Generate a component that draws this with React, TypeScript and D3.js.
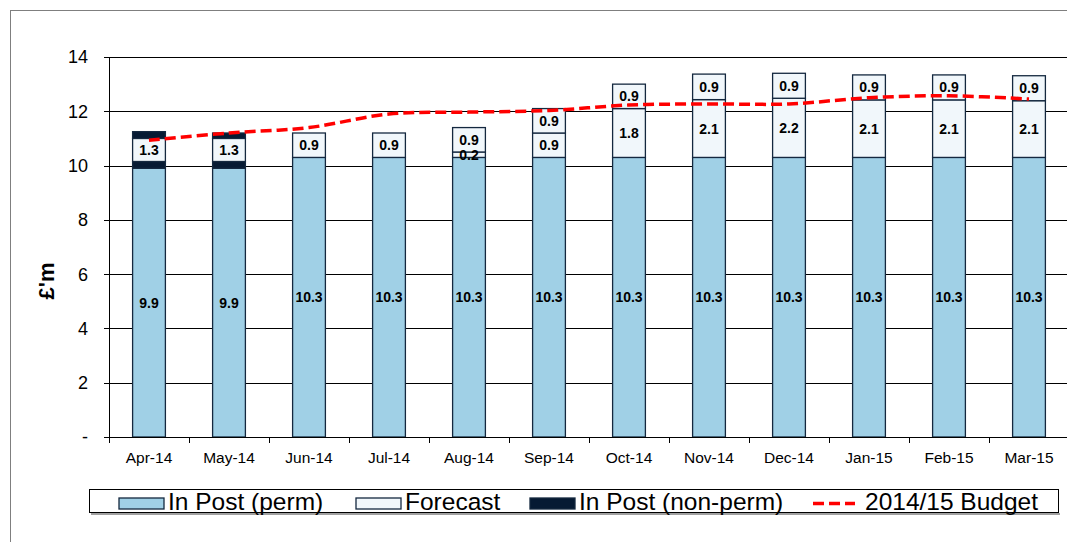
import React from "react";
import * as d3 from "d3";

const months = ["Apr-14","May-14","Jun-14","Jul-14","Aug-14","Sep-14","Oct-14","Nov-14","Dec-14","Jan-15","Feb-15","Mar-15"];
const inPostPerm = [9.9, 9.9, 10.3, 10.3, 10.3, 10.3, 10.3, 10.3, 10.3, 10.3, 10.3, 10.3];
const inPostNonPerm = [0.25, 0.25, 0, 0, 0, 0, 0, 0, 0, 0, 0, 0];
const forecastA = [0.85, 0.85, 0.9, 0.9, 0.2, 0.9, 1.8, 2.13, 2.18, 2.12, 2.12, 2.09];
const forecastB = [0, 0, 0, 0, 0.9, 0.9, 0.9, 0.94, 0.92, 0.92, 0.92, 0.92];
const nonPermTop = [0.25, 0.2, 0, 0, 0, 0, 0, 0, 0, 0, 0, 0];
const permLabels = ["9.9","9.9","10.3","10.3","10.3","10.3","10.3","10.3","10.3","10.3","10.3","10.3"];
const forecastALabels = ["1.3","1.3","0.9","0.9","0.2","0.9","1.8","2.1","2.2","2.1","2.1","2.1"];
const forecastBLabels = ["","","","","0.9","0.9","0.9","0.9","0.9","0.9","0.9","0.9"];
const budget = [10.93, 11.2, 11.4, 11.9, 11.97, 12.03, 12.23, 12.27, 12.27, 12.5, 12.57, 12.45];
const yTicks = [0, 2, 4, 6, 8, 10, 12, 14];
const legendItems = ["In Post (perm)", "Forecast", "In Post (non-perm)", "2014/15 Budget"];

const FONT = "'Liberation Sans', Arial, Helvetica, sans-serif";
const BLUE = "#A0D0E6";
const NAVY = "#061A33";
const WHITE = "#F1F7FB";
const EDGE = "#14283F";
const RED = "#FF0000";

export default function App() {
  const W = 1067, H = 542;
  const left = 109, right = 1069, top = 57, bottom = 437;
  const x = d3.scaleBand<string>().domain(months).range([left, right]).paddingInner(0.59).paddingOuter(0.295);
  const y = d3.scaleLinear().domain([0, 14]).range([bottom, top]);
  const bw = x.bandwidth();

  const segs: { key: string; i: number; y0: number; y1: number; fill: string; label: string }[] = [];
  months.forEach((m, i) => {
    let acc = 0;
    const add = (v: number, fill: string, label: string, key: string) => {
      if (v > 0) segs.push({ key: key + i, i, y0: acc, y1: acc + v, fill, label });
      acc += v;
    };
    add(inPostPerm[i], BLUE, permLabels[i], "p");
    add(inPostNonPerm[i], NAVY, "", "n");
    add(forecastA[i], WHITE, forecastALabels[i], "a");
    add(forecastB[i], WHITE, forecastBLabels[i], "b");
    add(nonPermTop[i], NAVY, "", "t");
  });

  const line = d3.line<number>()
    .x((_, i) => (x(months[i]) as number) + bw / 2)
    .y((d) => y(d))
    .curve(d3.curveCatmullRom.alpha(0.5));

  const legendY = 489;
  const swW = 45, swH = 11;
  const legendX = [119, 356, 530, 813];
  const textX = [168, 405, 579, 865];

  return (
    <svg width={W} height={H} style={{ position: "absolute", left: 0, top: 0, background: "#fff" }} fontFamily={FONT}>
      <rect x={10.5} y={10.5} width={1200} height={700} fill="none" stroke="#7f7f7f" strokeWidth={1} />
      {yTicks.filter((t) => t > 0).map((t) => (
        <line key={"g" + t} x1={left} x2={W} y1={Math.round(y(t)) + 0.5} y2={Math.round(y(t)) + 0.5} stroke="#000" strokeWidth={1} />
      ))}
      <line x1={left + 0.5} x2={left + 0.5} y1={Math.round(y(14))} y2={bottom + 0.5} stroke="#000" />
      {yTicks.map((t) => (
        <g key={"yt" + t}>
          <line x1={left - 5} x2={left} y1={Math.round(y(t)) + 0.5} y2={Math.round(y(t)) + 0.5} stroke="#000" />
          <text x={left - 21} y={y(t)} dy="0.36em" textAnchor="end" fontSize={18} fill="#000">{t === 0 ? "-" : String(t)}</text>
        </g>
      ))}
      <text transform={`translate(54,281) rotate(-90)`} textAnchor="middle" fontSize={22} fontWeight="bold" fill="#000">£'m</text>
      {segs.map((s) => (
        <rect key={s.key} x={(x(months[s.i]) as number)} y={y(s.y1)} width={bw} height={y(s.y0) - y(s.y1)} fill={s.fill} stroke={EDGE} strokeWidth={1.3} />
      ))}
      <path d={line(budget) || ""} fill="none" stroke={RED} strokeWidth={3.5} strokeDasharray="11 5" />
      {segs.filter((s) => s.label).map((s) => (
        <text key={"l" + s.key} x={(x(months[s.i]) as number) + bw / 2} y={(y(s.y0) + y(s.y1)) / 2} dy="0.36em" textAnchor="middle" fontSize={14} fontWeight="bold" fill="#000">{s.label}</text>
      ))}
      <line x1={left} x2={W} y1={bottom + 0.5} y2={bottom + 0.5} stroke="#000" />
      {months.map((m, i) => (
        <line key={"xt" + m} x1={left + i * x.step() + 0.5} x2={left + i * x.step() + 0.5} y1={bottom} y2={bottom + 6} stroke="#000" />
      ))}
      {months.map((m) => (
        <text key={"xl" + m} x={(x(m) as number) + bw / 2} y={463} textAnchor="middle" fontSize={15.5} fill="#000">{m}</text>
      ))}
      <line x1={91} x2={1060} y1={514} y2={514} stroke="#a0a0a0" strokeWidth={2} />
      <rect x={89.5} y={legendY + 0.5} width={969} height={23} fill="#fff" stroke="#000" strokeWidth={1} />
      <rect x={legendX[0]} y={498} width={swW} height={swH} fill={BLUE} stroke={EDGE} strokeWidth={1.3} />
      <rect x={legendX[1]} y={498} width={swW} height={swH} fill={WHITE} stroke={EDGE} strokeWidth={1.3} />
      <rect x={legendX[2]} y={498} width={swW} height={swH} fill={NAVY} stroke={EDGE} strokeWidth={1.3} />
      <line x1={legendX[3]} x2={legendX[3] + 42} y1={503.5} y2={503.5} stroke={RED} strokeWidth={3.5} strokeDasharray="11 5" />
      {legendItems.map((t, i) => (
        <text key={"lg" + i} x={textX[i]} y={510} fontSize={24.5} fill="#000">{t}</text>
      ))}
    </svg>
  );
}
